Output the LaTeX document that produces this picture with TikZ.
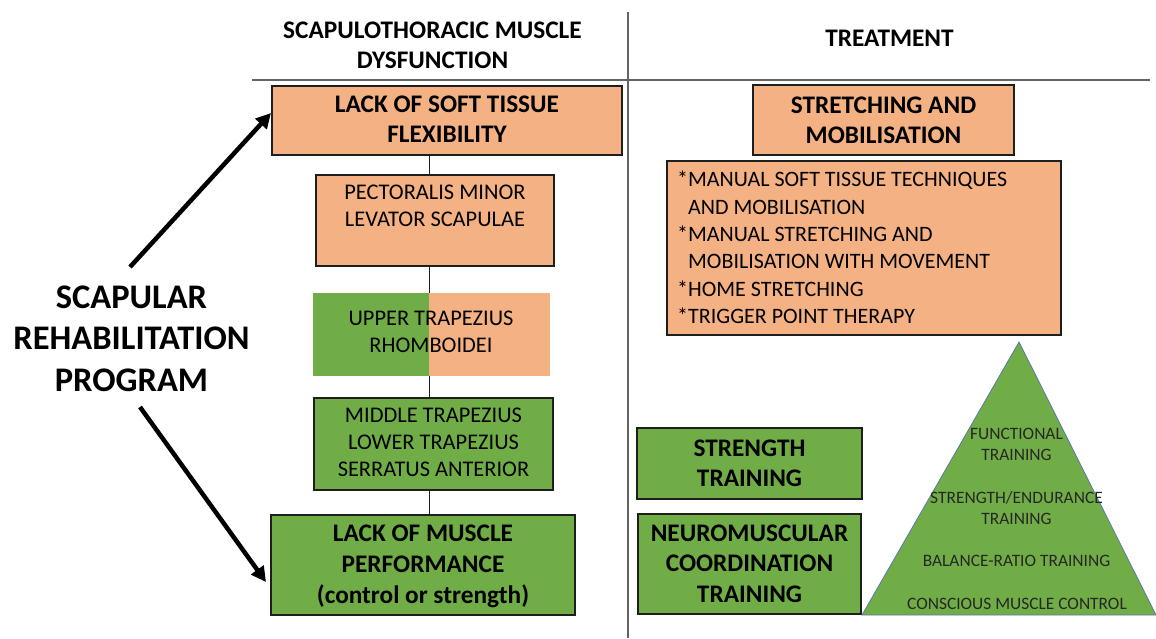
\documentclass[tikz,border=0pt]{standalone}
\usepackage{fontspec}
\setmainfont{Carlito}
\usetikzlibrary{arrows.meta}
\pgfdeclarelayer{background}
\pgfsetlayers{background,main}
\definecolor{orfill}{RGB}{244,177,131}
\definecolor{grfill}{RGB}{112,173,71}
\definecolor{bordc}{RGB}{30,30,30}
\definecolor{rulec}{RGB}{100,100,100}
\definecolor{tritext}{RGB}{38,38,38}
\definecolor{triedge}{RGB}{90,120,170}
\begin{document}
\begin{tikzpicture}[x=1pt,y=-1pt,
  box/.style={draw=bordc,line width=1.1pt,rectangle,inner sep=0pt,align=center},
  obox/.style={box,fill=orfill},
  gbox/.style={box,fill=grfill},
  headtxt/.style={inner sep=0pt,align=center,font=\fontsize{25.3}{30}\selectfont\bfseries},
  bodytxt/.style={inner sep=0pt,align=center,font=\fontsize{22.4}{27.3}\selectfont},
  tritxt/.style={inner sep=0pt,align=center,text=tritext,font=\fontsize{17.4}{21}\selectfont},
  bigarrow/.style={line width=4.5pt,-{Triangle[length=15pt,width=15pt]}},
  rule/.style={draw=rulec,line width=1.2pt},
  conn/.style={draw=bordc,line width=0.9pt}]
\useasboundingbox (0,0) rectangle (1156,638);

% rules
\coordinate (hl1) at (252,80);
\coordinate (hl2) at (1150,80);
\coordinate (vl1) at (628,12);
\coordinate (vl2) at (628,638);
\draw[rule] (hl1) -- (hl2);
\draw[rule] (vl1) -- (vl2);

% headers
\node[headtxt] (h1) at (432.5,45) {SCAPULOTHORACIC MUSCLE\\DYSFUNCTION};
\node[headtxt] (h2) at (889.5,38) {TREATMENT};

% left column
\node[obox,minimum width=350pt,minimum height=69pt] (A) at (447,120.5) {};
\node[headtxt] (At) at (447,119) {LACK OF SOFT TISSUE\\FLEXIBILITY};

\node[obox,minimum width=238pt,minimum height=91pt] (B) at (435,220.5) {};
\node[bodytxt] (Bt) at (435,206) {PECTORALIS MINOR\\LEVATOR SCAPULAE};

\fill[grfill] (313,293) rectangle (429,376);
\fill[orfill] (429,293) rectangle (550,376);
\node[minimum width=237pt,minimum height=83pt,inner sep=0pt] (C) at (431.5,334.5) {};
\node[bodytxt] (Ct) at (431,332) {UPPER TRAPEZIUS\\RHOMBOIDEI};

\node[gbox,minimum width=239pt,minimum height=92pt] (D) at (433.5,444) {};
\node[bodytxt] (Dt) at (433.5,442.5) {MIDDLE TRAPEZIUS\\LOWER TRAPEZIUS\\SERRATUS ANTERIOR};

\node[gbox,minimum width=304pt,minimum height=100pt] (E) at (423,565) {};
\node[headtxt,font=\fontsize{25.3}{31}\selectfont\bfseries] (Et) at (423,566) {LACK OF MUSCLE\\PERFORMANCE\\(control or strength)};

% spine connector behind boxes
\coordinate (spine) at (429,0);
\begin{pgfonlayer}{background}
\draw[conn] (spine |- A.south) -- (spine |- E.north);
\end{pgfonlayer}

% left label and arrows
\node[inner sep=0pt,align=center,font=\fontsize{34.5}{41.5}\selectfont\bfseries] (L) at (131.5,338.5) {SCAPULAR\\REHABILITATION\\PROGRAM};
\coordinate (u1) at (130,267);
\coordinate (u2) at (271,113);
\coordinate (d1) at (140,407);
\coordinate (d2) at (266,582);
\draw[bigarrow] (u1) -- (u2);
\draw[bigarrow] (d1) -- (d2);

% right column
\node[obox,minimum width=261pt,minimum height=70pt] (F) at (883.5,120) {};
\node[headtxt] (Ft) at (883.5,120) {STRETCHING AND\\MOBILISATION};

\node[obox,minimum width=394pt,minimum height=174pt] (G) at (864,248) {};
\node[inner sep=0pt,align=left,anchor=west,font=\fontsize{22}{27.3}\selectfont] (Gt) at (677,247.5)
  {*MANUAL SOFT TISSUE TECHNIQUES\\
   \phantom{*}AND MOBILISATION\\
   *MANUAL STRETCHING AND\\
   \phantom{*}MOBILISATION WITH MOVEMENT\\
   *HOME STRETCHING\\
   *TRIGGER POINT THERAPY};

\node[gbox,minimum width=225pt,minimum height=71pt] (H) at (749.5,463.5) {};
\node[headtxt] (Ht) at (749.5,463) {STRENGTH\\TRAINING};

\node[gbox,minimum width=223pt,minimum height=100pt] (I) at (749.5,564) {};
\node[headtxt,font=\fontsize{25.3}{30.5}\selectfont\bfseries] (It) at (749.5,563.5) {NEUROMUSCULAR\\COORDINATION\\TRAINING};

% pyramid
\coordinate (tA) at (1019,342);
\coordinate (tB) at (862,615);
\coordinate (tC) at (1156,615);
\draw[fill=grfill,draw=triedge,line width=0.8pt] (tA) -- (tB) -- (tC) -- cycle;
\node[tritxt] (p1) at (1016.5,444.5) {FUNCTIONAL\\TRAINING};
\node[tritxt] (p2) at (1016.5,508.5) {STRENGTH/ENDURANCE\\TRAINING};
\node[tritxt] (p3) at (1016.5,561) {BALANCE-RATIO TRAINING};
\node[tritxt] (p4) at (1017,604) {CONSCIOUS MUSCLE CONTROL};
\end{tikzpicture}
\end{document}
